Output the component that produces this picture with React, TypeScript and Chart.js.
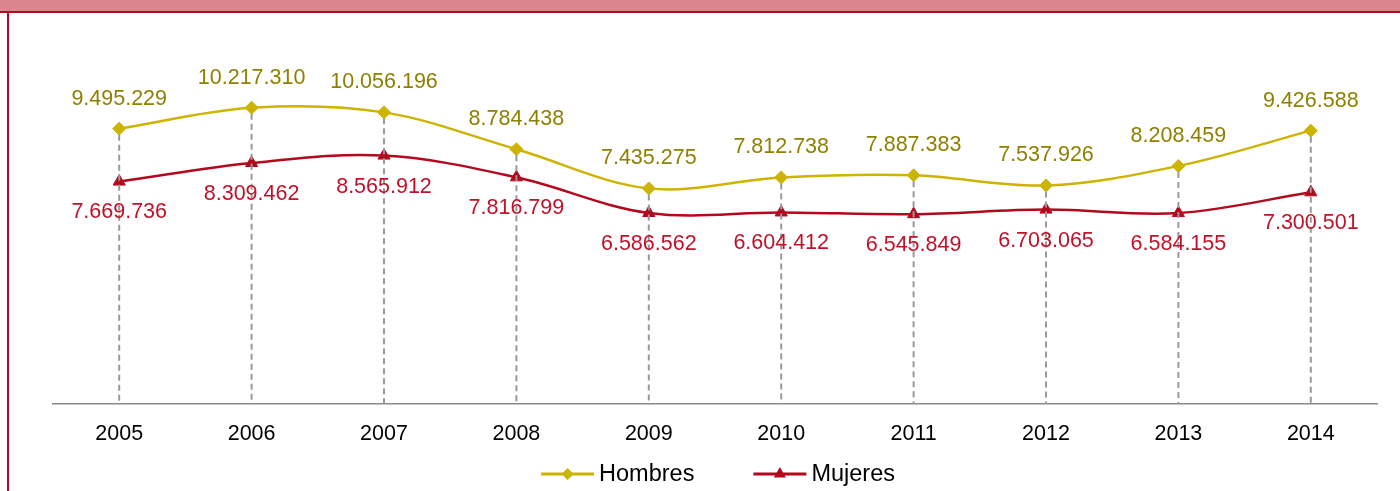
import React, { useEffect, useRef } from 'react';
import { Chart, registerables } from 'chart.js';

Chart.register(...registerables);

const categories = ['2005', '2006', '2007', '2008', '2009', '2010', '2011', '2012', '2013', '2014'];
const hombres = [9495229, 10217310, 10056196, 8784438, 7435275, 7812738, 7887383, 7537926, 8208459, 9426588];
const mujeres = [7669736, 8309462, 8565912, 7816799, 6586562, 6604412, 6545849, 6703065, 6584155, 7300501];
const seriesNames = ['Hombres', 'Mujeres'];

const FONT = "Arial, 'Liberation Sans', sans-serif";
const lineColors = ['#CCB400', '#B3091E'];
const labelColors = ['#8E8000', '#C0122B'];
const labelOffsets = [-30, 31];

const fmt = (v: number) => String(v).replace(/\B(?=(\d{3})+(?!\d))/g, '.');

const dropLinesPlugin = {
  id: 'dropLines',
  afterDatasetsDraw(chart: any) {
    const { ctx, chartArea } = chart;
    const meta = chart.getDatasetMeta(0);
    ctx.save();
    ctx.strokeStyle = '#999999';
    ctx.lineWidth = 2;
    ctx.setLineDash([6, 4]);
    meta.data.forEach((p: any) => {
      ctx.beginPath();
      ctx.moveTo(p.x, p.y + 6);
      ctx.lineTo(p.x, chartArea.bottom);
      ctx.stroke();
    });
    ctx.restore();
  },
};

const valueLabelsPlugin = {
  id: 'valueLabels',
  afterDatasetsDraw(chart: any) {
    const { ctx } = chart;
    ctx.save();
    ctx.font = `21.5px ${FONT}`;
    ctx.textAlign = 'center';
    ctx.textBaseline = 'middle';
    chart.data.datasets.forEach((ds: any, di: number) => {
      const meta = chart.getDatasetMeta(di);
      ctx.fillStyle = labelColors[di];
      meta.data.forEach((p: any, i: number) => {
        ctx.fillText(fmt(ds.data[i]), p.x, p.y + labelOffsets[di]);
      });
    });
    ctx.restore();
  },
};

const drawMarker = (ctx: CanvasRenderingContext2D, style: string, x: number, y: number, color: string) => {
  ctx.fillStyle = color;
  ctx.beginPath();
  if (style === 'rectRot') {
    const r = 6;
    ctx.moveTo(x - r, y);
    ctx.lineTo(x, y - r);
    ctx.lineTo(x + r, y);
    ctx.lineTo(x, y + r);
  } else {
    const r = 7;
    ctx.moveTo(x, y - r);
    ctx.lineTo(x + r * 0.866, y + r / 2);
    ctx.lineTo(x - r * 0.866, y + r / 2);
  }
  ctx.closePath();
  ctx.fill();
};

const legendPlugin = {
  id: 'customLegend',
  afterDraw(chart: any) {
    const { ctx, chartArea } = chart;
    ctx.save();
    ctx.font = `23.5px ${FONT}`;
    ctx.textBaseline = 'middle';
    ctx.textAlign = 'left';
    const lineW = 53;
    const gap = 5;
    const spacing = 59;
    const widths = chart.data.datasets.map((ds: any) => ctx.measureText(ds.label).width);
    const total = widths.reduce((a: number, w: number) => a + lineW + gap + w, 0) + spacing * (widths.length - 1);
    let x = (chartArea.left + chartArea.right) / 2 + 3 - total / 2;
    const y = 474;
    chart.data.datasets.forEach((ds: any, i: number) => {
      ctx.strokeStyle = ds.borderColor;
      ctx.lineWidth = 3;
      ctx.beginPath();
      ctx.moveTo(x, y);
      ctx.lineTo(x + lineW, y);
      ctx.stroke();
      drawMarker(ctx, ds.pointStyle, x + lineW / 2, y, ds.pointBackgroundColor);
      ctx.fillStyle = '#000000';
      ctx.fillText(ds.label, x + lineW + gap, y + 1);
      x += lineW + gap + widths[i] + spacing;
    });
    ctx.restore();
  },
};

export default function App() {
  const canvasRef = useRef<HTMLCanvasElement | null>(null);

  useEffect(() => {
    if (!canvasRef.current) return;
    const chart = new Chart(canvasRef.current, {
      type: 'line',
      data: {
        labels: categories,
        datasets: [
          {
            label: seriesNames[0],
            data: hombres,
            borderColor: lineColors[0],
            backgroundColor: lineColors[0],
            pointBackgroundColor: lineColors[0],
            pointBorderColor: lineColors[0],
            pointStyle: 'rectRot',
            pointRadius: 6.5,
            pointBorderWidth: 1,
            borderWidth: 2.5,
            tension: 0.35,
            fill: false,
          },
          {
            label: seriesNames[1],
            data: mujeres,
            borderColor: lineColors[1],
            backgroundColor: lineColors[1],
            pointBackgroundColor: lineColors[1],
            pointBorderColor: lineColors[1],
            pointStyle: 'triangle',
            pointRadius: 7,
            pointBorderWidth: 1,
            borderWidth: 2.5,
            tension: 0.35,
            fill: false,
          },
        ],
      },
      options: {
        responsive: false,
        animation: false,
        layout: { padding: { left: 53, right: 23, top: 56, bottom: 0 } },
        plugins: {
          legend: { display: false },
          tooltip: { enabled: false },
          title: { display: false },
        },
        scales: {
          x: {
            type: 'category',
            offset: true,
            grid: { display: false, drawTicks: false },
            border: { display: true, color: '#8A8A8A', width: 1.5 },
            ticks: {
              color: '#000000',
              font: { family: FONT, size: 21.5 },
              padding: 17,
              maxRotation: 0,
              autoSkip: false,
            },
            afterFit: (scale: any) => {
              scale.height = 87;
            },
          },
          y: {
            display: false,
            min: 0,
            max: 12000000,
          },
        },
      },
      plugins: [dropLinesPlugin, valueLabelsPlugin, legendPlugin],
    } as any);
    return () => chart.destroy();
  }, []);

  return (
    <div style={{ position: 'absolute', left: 0, top: 0, width: 1400, height: 491, overflow: 'hidden', background: '#FFFFFF' }}>
      <canvas ref={canvasRef} width={1400} height={491} style={{ position: 'absolute', left: 0, top: 0, width: 1400, height: 491 }} />
      <div style={{ position: 'absolute', left: 0, top: 0, width: 1400, height: 11, background: '#DB868F' }} />
      <div style={{ position: 'absolute', left: 0, top: 11, width: 1400, height: 2, background: '#B00A22' }} />
      <div style={{ position: 'absolute', left: 7, top: 11, width: 2, height: 480, background: '#B00A22' }} />
    </div>
  );
}
